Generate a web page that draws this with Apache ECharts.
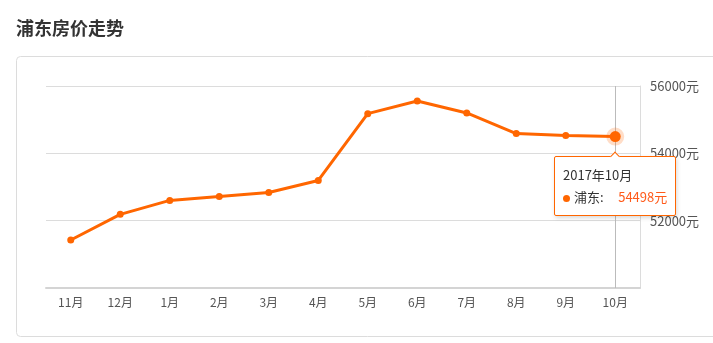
<!DOCTYPE html>
<html>
<head>
<meta charset="utf-8">
<script src="https://cdn.jsdelivr.net/npm/echarts@6/dist/echarts.min.js"></script>
<style>
  html, body { margin: 0; padding: 0; background: #fff; }
  #priceChart { width: 713px; height: 343px; }
</style>
</head>
<body>
<div id="priceChart"></div>
<script>
// 月份 & 均价
const months = ["11月", "12月", "1月", "2月", "3月", "4月", "5月", "6月", "7月", "8月", "9月", "10月"];
const prices = [51425, 52187, 52602, 52720, 52839, 53194, 55179, 55556, 55200, 54587, 54527, 54498];
const tipTitle = "2017年10月";
const seriesName = "浦东";

const orange = "#ff6600";
const font = "'Microsoft YaHei', 'Noto Sans CJK SC', sans-serif";

let myChart = echarts.init(document.getElementById("priceChart"));

// 最后一个点带光圈
const lineData = prices.map(function (v, i) {
  if (i === prices.length - 1) {
    return {
      value: v,
      symbolSize: 11,
      itemStyle: { color: orange, borderColor: "rgba(255,102,0,0.22)", borderWidth: 7 }
    };
  }
  return v;
});

myChart.setOption({
  textStyle: { fontFamily: font },
  title: {
    text: "浦东房价走势",
    left: 11,
    top: 14,
    textStyle: { fontSize: 18, fontWeight: "bold", color: "#333", fontFamily: font }
  },
  graphic: [
    {
      type: "rect",
      shape: { x: 16.5, y: 56.5, width: 720, height: 280, r: 4 },
      style: { fill: "none", stroke: "#dcdcdc", lineWidth: 1 },
      silent: true,
      z: -1
    }
  ],
  grid: { left: 46, right: 73, top: 86, bottom: 55 },
  tooltip: {
    trigger: "item",
    position: "bottom",
    alwaysShowContent: true,
    backgroundColor: "#fff",
    borderColor: orange,
    borderWidth: 1,
    padding: [7, 8],
    extraCssText: "box-shadow: 1px 2px 4px rgba(0,0,0,0.15); border-radius: 2px;",
    formatter: function (p) {
      return '<div style="font-size:13px;color:#333;line-height:22px;font-family:' + font.replace(/'/g, "") + '">' +
        tipTitle + "<br/>" +
        '<span style="display:inline-block;width:7px;height:7px;border-radius:50%;background:' + orange + ';margin-right:4px;vertical-align:middle;"></span>' +
        seriesName + ":&nbsp;&nbsp;&nbsp;&nbsp;&nbsp;" +
        '<span style="color:#ff5a1a">' + p.value + "元</span></div>";
    }
  },
  xAxis: {
    type: "category",
    data: months,
    boundaryGap: true,
    axisLine: { lineStyle: { color: "#d4d4d4", width: 2 } },
    axisTick: { alignWithLabel: true, length: 3, lineStyle: { color: "#d4d4d4" } },
    axisLabel: { color: "#555", fontSize: 12, margin: 8 },
    axisPointer: {
      show: true,
      type: "line",
      value: months[months.length - 1],
      status: "show",
      z: 1,
      label: { show: false },
      lineStyle: { color: "#bbb", width: 1, type: "solid" }
    }
  },
  yAxis: {
    type: "value",
    position: "right",
    min: 50000,
    max: 56000,
    interval: 2000,
    axisLine: { show: true, lineStyle: { color: "#dcdcdc" } },
    axisTick: { show: false },
    axisLabel: {
      formatter: function (v) { return v + "元"; },
      color: "#555",
      fontSize: 13,
      margin: 10,
      showMinLabel: false
    },
    splitLine: { lineStyle: { color: "#dcdcdc" } }
  },
  series: [
    {
      name: seriesName,
      type: "line",
      data: lineData,
      symbol: "circle",
      symbolSize: 7,
      showAllSymbol: true,
      z: 3,
      itemStyle: { color: orange },
      lineStyle: { color: orange, width: 3 },
      emphasis: { disabled: true },
      animation: false
    }
  ]
});

setTimeout(function () {
  myChart.dispatchAction({ type: "showTip", seriesIndex: 0, dataIndex: prices.length - 1 });
}, 50);

window.onresize = function () {
  myChart.resize();
};
</script>
</body>
</html>
